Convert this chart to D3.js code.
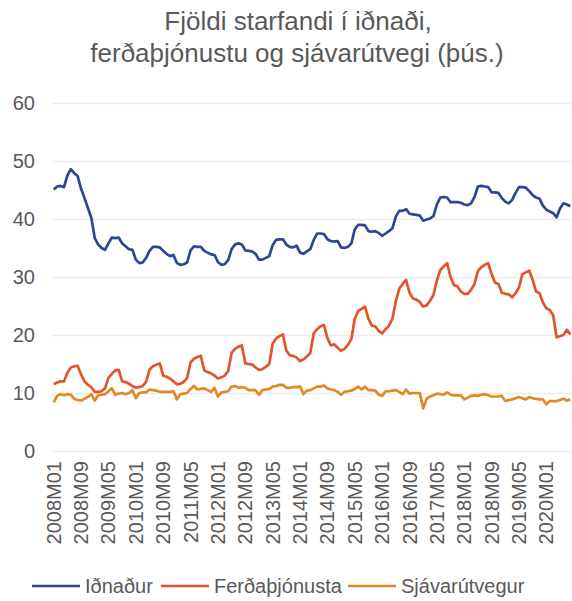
<!DOCTYPE html>
<html>
<head>
<meta charset="utf-8">
<script src="https://cdn.jsdelivr.net/npm/d3@7"></script>
<style>
body {
  margin: 0;
  background-color: white;
}
text {
  font-family: Arial, "Liberation Sans", sans-serif;
  fill: #595959;
}
.grid line {
  stroke: #ececec;
  stroke-width: 1.5;
}
.grid path { display: none; }
</style>
</head>
<body>
<script>
// months 2008M01 .. 2020M08
const months = [];
for (let yr = 2008; yr <= 2020; yr++) {
  for (let m = 1; m <= 12; m++) {
    if (yr === 2020 && m > 8) break;
    months.push(yr + "M" + String(m).padStart(2, "0"));
  }
}
const tickLabels = months.filter((d, i) => i % 8 === 0);
const yTicks = [0, 10, 20, 30, 40, 50, 60];

const idnadur = [
  45.1, 45.6, 45.7, 45.5, 47.5, 48.6, 47.9, 47.4, 45.2, 43.6, 41.9, 40.2,
  36.7, 35.6, 35.0, 34.7, 35.8, 36.8, 36.7, 36.8, 35.8, 35.3, 34.8, 34.7,
  33.0, 32.4, 32.5, 33.3, 34.5, 35.2, 35.2, 35.1, 34.5, 34.0, 33.6, 33.8,
  32.4, 32.1, 32.2, 32.5, 34.6, 35.3, 35.2, 35.2, 34.5, 34.2, 33.9, 33.8,
  32.6, 32.1, 32.2, 32.9, 34.8, 35.6, 35.8, 35.6, 34.6, 34.5, 34.4, 34.0,
  33.0, 33.0, 33.3, 33.6, 35.5, 36.4, 36.5, 36.5, 35.6, 35.2, 35.1, 35.4,
  34.2, 34.0, 34.4, 34.8, 36.4, 37.5, 37.5, 37.4, 36.5, 36.2, 36.1, 36.2,
  35.1, 35.0, 35.2, 35.8, 38.2, 39.0, 39.0, 38.9, 37.9, 37.8, 37.9, 37.6,
  37.1, 37.5, 37.9, 38.4, 40.4, 41.4, 41.4, 41.7, 40.9, 40.8, 40.7, 40.6,
  39.7, 39.9, 40.1, 40.5, 42.5, 43.7, 43.8, 43.7, 42.9, 42.9, 42.9, 42.8,
  42.5, 42.4, 42.7, 43.8, 45.6, 45.7, 45.6, 45.5, 44.6, 44.6, 44.5, 43.6,
  43.0, 42.7, 43.3, 44.5, 45.5, 45.5, 45.4, 44.8, 44.1, 43.7, 43.5, 42.3,
  41.6, 41.3, 41.0, 40.3, 41.8, 42.7, 42.5, 42.2
];

const ferdathjonusta = [
  11.5, 11.8, 12.0, 12.0, 13.5, 14.4, 14.6, 14.7, 13.2, 12.0, 11.4, 11.0,
  10.2, 10.2, 10.3, 10.8, 12.6, 13.3, 13.9, 14.0, 12.0, 11.9, 11.6, 11.2,
  10.9, 11.0, 11.2, 11.9, 14.0, 14.6, 14.9, 15.1, 13.0, 12.8, 12.5, 12.0,
  11.5, 11.6, 11.9, 12.6, 15.3, 15.9, 16.2, 16.4, 13.9, 13.6, 13.4, 13.0,
  12.5, 12.7, 13.0, 13.8, 16.9, 17.6, 18.0, 18.2, 15.1, 15.0, 14.9, 14.4,
  14.0, 14.1, 14.5, 15.0, 18.5, 19.4, 19.8, 20.1, 17.3, 16.5, 16.4, 16.1,
  15.5, 15.8, 16.3, 16.9, 20.3, 21.0, 21.5, 21.7, 19.5, 18.2, 18.4, 17.8,
  17.3, 17.6, 18.3, 19.3, 22.8, 24.1, 24.5, 24.9, 22.8, 21.6, 21.5, 20.7,
  20.3, 21.0, 21.6, 22.8, 25.8, 28.0, 28.8, 29.5, 27.3, 26.3, 26.1, 25.7,
  24.9, 25.1, 25.9, 26.9, 29.4, 31.2, 31.8, 32.4, 30.0, 28.6, 28.4, 27.5,
  27.1, 27.1, 27.8, 28.8, 31.0, 31.7, 32.1, 32.4, 30.5, 29.0, 28.8, 27.3,
  27.1, 27.0, 26.5, 27.2, 28.2, 30.5, 30.8, 31.1, 29.5, 27.5, 27.2, 25.6,
  24.6, 24.3, 23.4, 19.6, 19.8, 20.0, 20.9, 20.1
];

const sjavarutvegur = [
  8.4, 9.5, 9.8, 9.6, 9.8, 9.7, 9.0, 8.8, 8.7, 9.0, 9.3, 9.8,
  8.7, 9.6, 9.7, 9.8, 10.3, 10.8, 9.7, 9.9, 10.0, 9.8, 10.0, 10.5,
  9.1, 10.0, 10.1, 10.1, 10.6, 10.5, 10.4, 10.2, 10.2, 10.2, 10.2, 10.3,
  8.9, 9.8, 9.9, 10.0, 10.7, 11.2, 10.6, 10.7, 10.8, 10.5, 10.2, 10.9,
  9.4, 10.1, 10.2, 10.3, 11.1, 11.2, 10.9, 11.0, 10.9, 10.5, 10.5, 10.5,
  9.7, 10.5, 10.6, 10.7, 11.1, 11.2, 11.4, 11.4, 10.9, 10.9, 11.0, 11.0,
  11.1, 9.8, 10.4, 10.5, 10.8, 11.1, 11.1, 11.3, 10.8, 10.6, 10.5, 10.2,
  9.7, 10.2, 10.3, 10.4, 10.7, 11.1, 10.6, 11.1, 10.5, 10.5, 10.4, 9.7,
  9.5, 10.3, 10.3, 10.4, 10.5, 10.2, 9.8, 10.6, 9.9, 10.0, 10.0, 10.0,
  7.35, 9.0, 9.4, 9.6, 9.9, 9.8, 9.7, 10.1, 9.7, 9.6, 9.6, 9.6,
  8.9, 9.2, 9.5, 9.6, 9.5, 9.7, 9.8, 9.6, 9.4, 9.4, 9.4, 9.5,
  8.6, 8.8, 8.9, 9.1, 9.3, 9.1, 8.9, 9.3, 9.1, 9.0, 8.9, 8.9,
  8.05, 8.6, 8.6, 8.6, 8.8, 9.0, 8.7, 8.9
];

const seriesNames = ["Iðnaður", "Ferðaþjónusta", "Sjávarútvegur"];
const seriesColors = ["#2e4593", "#e2552a", "#e08a25"];
const seriesValues = [idnadur, ferdathjonusta, sjavarutvegur];

const svg = d3.select("body")
              .append("svg")
              .attr("width", 572)
              .attr("height", 601);

const x = d3.scaleBand()
            .domain(months)
            .range([52, 572])
            .padding(0);

const y = d3.scaleLinear()
            .domain([0, 60])
            .range([451, 103]);

// title
svg.append("text")
   .attr("x", 298).attr("y", 30)
   .attr("text-anchor", "middle")
   .style("font-size", "26px")
   .text("Fjöldi starfandi í iðnaði,");
svg.append("text")
   .attr("x", 297).attr("y", 62)
   .attr("text-anchor", "middle")
   .style("font-size", "26px")
   .text("ferðaþjónustu og sjávarútvegi (þús.)");

// gridlines + y labels
const yAxis = d3.axisLeft(y).tickValues(yTicks).tickSize(-520).tickPadding(17);
svg.append("g")
   .attr("class", "grid")
   .attr("transform", "translate(52, 0)")
   .call(yAxis)
   .call(g => g.selectAll("text").style("font-size", "20px"));

// x labels
const xAxis = d3.axisBottom(x).tickValues(tickLabels).tickSize(0);
svg.append("g")
   .attr("transform", "translate(0, 451)")
   .call(xAxis)
   .call(g => g.select(".domain").remove())
   .call(g => g.selectAll("text")
     .attr("transform", "rotate(-90)")
     .attr("x", -10)
     .attr("y", 0)
     .attr("dy", "0.35em")
     .attr("text-anchor", "end")
     .style("font-size", "20px"));

const line = d3.line()
               .x((d, i) => x(months[i]) + x.bandwidth() / 2)
               .y(d => y(d));

seriesValues.forEach((vals, k) => {
  svg.append("path")
     .datum(vals)
     .attr("fill", "none")
     .attr("stroke", seriesColors[k])
     .attr("stroke-width", 2.7)
     .attr("stroke-linejoin", "round")
     .attr("d", line);
});

// legend
const legendX = [32, 161, 348];
const legend = svg.append("g").attr("transform", "translate(0, 586)");
seriesNames.forEach((name, k) => {
  legend.append("line")
        .attr("x1", legendX[k]).attr("x2", legendX[k] + 48)
        .attr("y1", 0).attr("y2", 0)
        .attr("stroke", seriesColors[k])
        .attr("stroke-width", 2.7);
  legend.append("text")
        .attr("x", legendX[k] + 53)
        .attr("y", 0)
        .attr("dy", "0.35em")
        .style("font-size", "20px")
        .text(name);
});
</script>
</body>
</html>
